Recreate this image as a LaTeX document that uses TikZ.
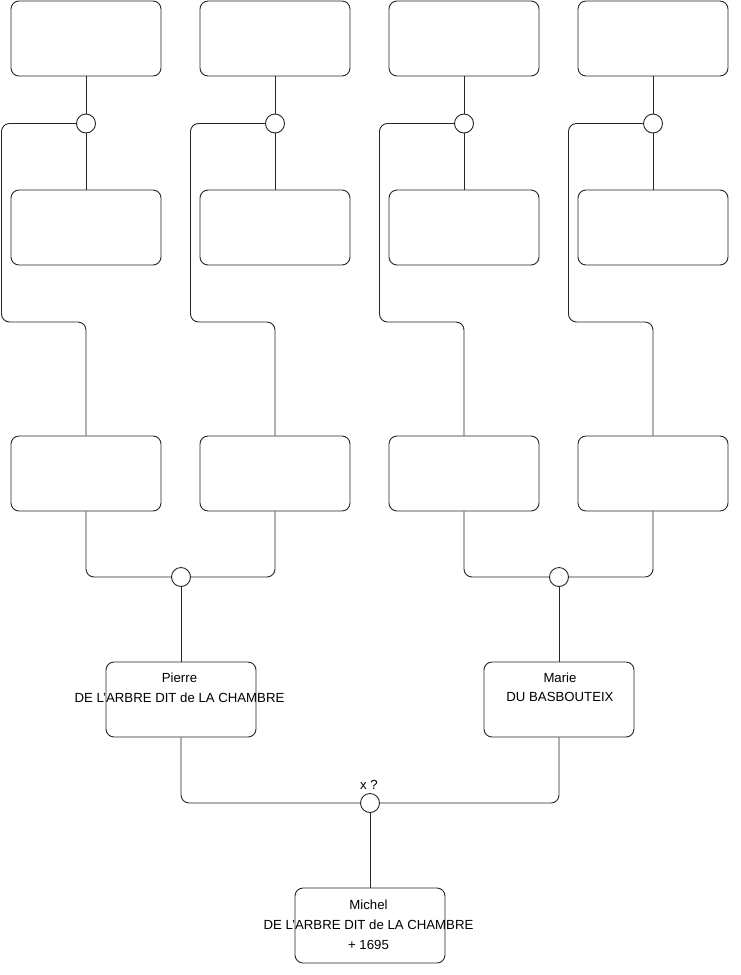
\documentclass[tikz,border=0pt]{standalone}
\usepackage{fontspec}
\setmainfont{Liberation Sans}
\begin{document}
\begin{tikzpicture}[x=1pt,y=-1pt,
  person/.style={draw=black!85,line width=0.9pt,rounded corners=8pt,minimum width=150pt,minimum height=75pt,inner sep=0pt},
  knot/.style={circle,draw=black!85,line width=0.9pt,minimum size=19pt,inner sep=0pt,fill=white},
  conn/.style={draw=black!85,line width=0.9pt,rounded corners=8pt},
  txt/.style={font=\fontsize{13.2}{16}\selectfont,inner sep=0pt,anchor=base}]
\useasboundingbox (0,0) rectangle (740,975);
% boxes
\foreach \n/\x in {1/86,2/275,3/464,4/653}{
  \node[person] (t\n) at (\x,38.5) {};
  \node[person] (m\n) at (\x,227.5) {};
  \node[person] (b\n) at (\x,473.5) {};
}
\node[person] (P) at (181,699.5) {};
\node[person] (M) at (559,699.5) {};
\node[person] (C) at (370,925.5) {};
% knots
\foreach \n/\x in {1/86,2/275,3/464,4/653}{
  \node[knot] (c\n) at (\x,123.5) {};
}
\node[knot] (cp) at (181,577) {};
\node[knot] (cm) at (559,577) {};
\node[knot] (cc) at (370,803) {};
% corner coordinates
\coordinate (L1) at (1.5,322);
\coordinate (L2) at (190.5,322);
\coordinate (L3) at (379.5,322);
\coordinate (L4) at (568.5,322);
% connectors
\foreach \n in {1,2,3,4}{
  \draw[conn] (t\n.south) -- (c\n.north);
  \draw[conn] (c\n.south) -- (m\n.north);
  \draw[conn] (c\n.west) -| (L\n) -| (b\n.north);
}
\draw[conn] (b1.south) |- (cp.west);
\draw[conn] (b2.south) |- (cp.east);
\draw[conn] (b3.south) |- (cm.west);
\draw[conn] (b4.south) |- (cm.east);
\draw[conn] (cp.south) -- (P.north);
\draw[conn] (cm.south) -- (M.north);
\draw[conn] (P.south) |- (cc.west);
\draw[conn] (M.south) |- (cc.east);
\draw[conn] (cc.south) -- (C.north);
% texts
\node[txt] (p1) at (179.5,682.3) {Pierre};
\node[txt] (p2) at (179.5,702.3) {DE L'ARBRE DIT de LA CHAMBRE};
\node[txt] (m1t) at (560,682.3) {Marie};
\node[txt] (m2t) at (560,701.8) {DU BASBOUTEIX};
\node[txt] (x1) at (369,789.3) {x ?};
\node[txt] (k1) at (368.5,909.3) {Michel};
\node[txt] (k2) at (368.5,929.3) {DE L'ARBRE DIT de LA CHAMBRE};
\node[txt] (k3) at (368.5,949.8) {+ 1695};
\end{tikzpicture}
\end{document}
